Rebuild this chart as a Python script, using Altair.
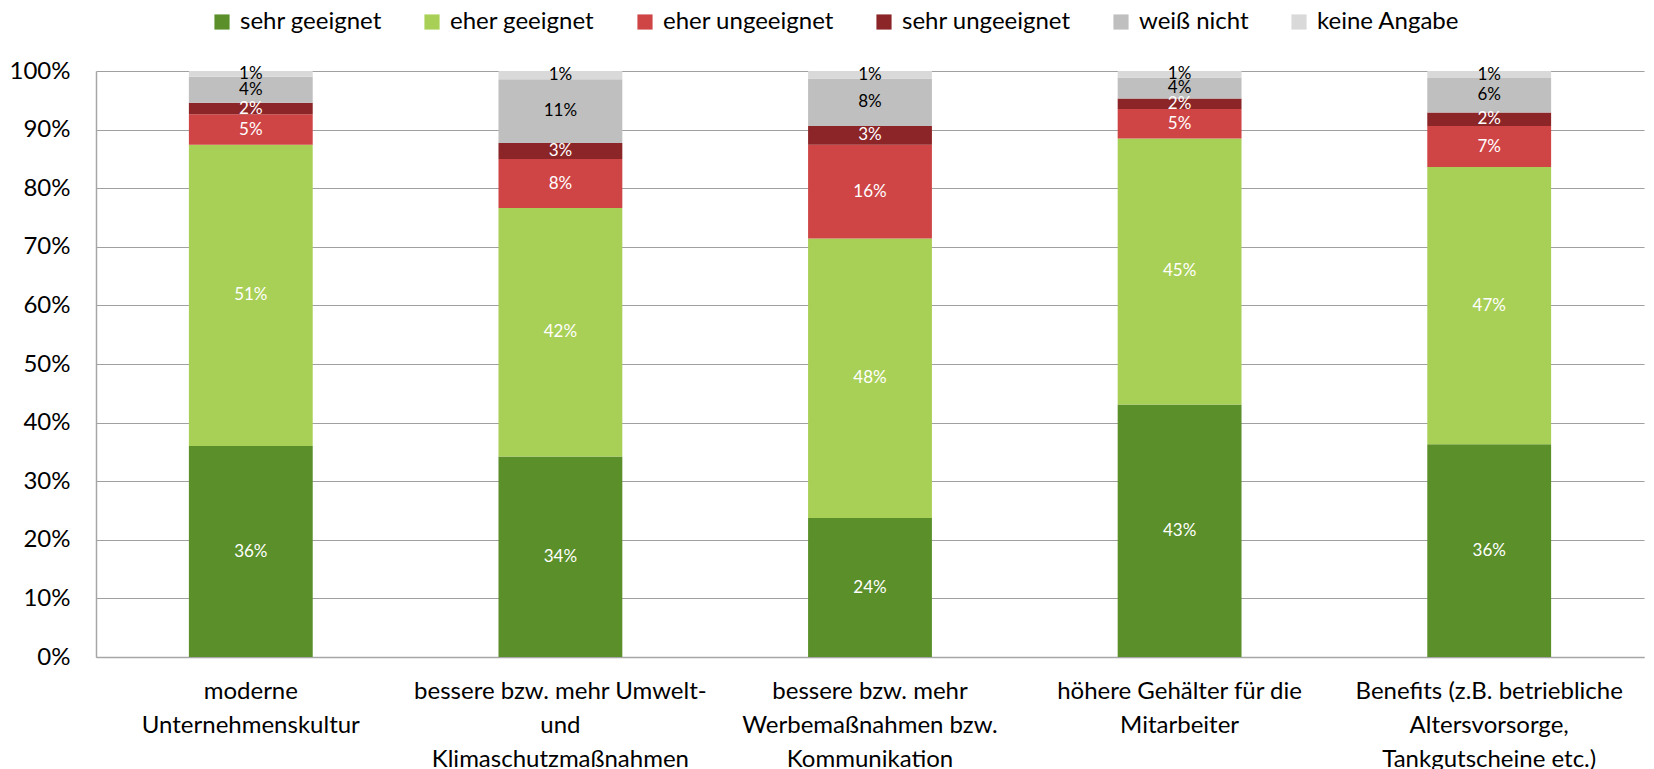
import altair as alt
import pandas as pd

categories = [
    "moderne|Unternehmenskultur",
    "bessere bzw. mehr Umwelt-|und|Klimaschutzmaßnahmen",
    "bessere bzw. mehr|Werbemaßnahmen bzw.|Kommunikation",
    "höhere Gehälter für die|Mitarbeiter",
    "Benefits (z.B. betriebliche|Altersvorsorge,|Tankgutscheine etc.)",
]
series = ["sehr geeignet", "eher geeignet", "eher ungeeignet",
          "sehr ungeeignet", "weiß nicht", "keine Angabe"]
colors = ["#5A8F29", "#A9D056", "#CF4546", "#8B2527", "#BFBFBF", "#D9D9D9"]
label_colors = ["white", "white", "white", "white", "black", "black"]

sehr_geeignet = [36.0, 34.2, 23.7, 43.1, 36.3]
eher_geeignet = [51.4, 42.4, 47.7, 45.4, 47.3]
eher_ungeeignet = [5.2, 8.4, 16.0, 5.0, 7.0]
sehr_ungeeignet = [2.0, 2.7, 3.2, 1.8, 2.3]
weiss_nicht = [4.4, 10.9, 8.1, 3.6, 5.9]
keine_angabe = [1.0, 1.4, 1.3, 1.1, 1.2]

values = [sehr_geeignet, eher_geeignet, eher_ungeeignet,
          sehr_ungeeignet, weiss_nicht, keine_angabe]

rows = []
for si, s in enumerate(series):
    for ci, c in enumerate(categories):
        rows.append({"cat": c, "series": s, "order": si,
                     "value": values[si][ci] / 100.0,
                     "lc": label_colors[si]})
df = pd.DataFrame(rows)

FONT = "Lato"

base = alt.Chart(df).transform_stack(
    stack="value", as_=["y0", "y1"], groupby=["cat"],
    sort=[alt.SortField("order", order="ascending")]
).transform_calculate(mid="(datum.y0 + datum.y1) / 2")

x_enc = alt.X("cat:N", sort=categories, title=None,
              scale=alt.Scale(paddingInner=0.6, paddingOuter=0.3),
              axis=alt.Axis(labelExpr="split(datum.label, '|')",
                            labelAngle=0, labelFontSize=24,
                            labelLineHeight=34, labelPadding=22,
                            labelLimit=400, labelColor="#000000",
                            labelFont=FONT, ticks=False,
                            domainColor="#A6A6A6", domainWidth=1.5,
                            grid=False))

bars = base.mark_bar().encode(
    x=x_enc,
    y=alt.Y("y0:Q", title=None,
            scale=alt.Scale(domain=[0, 1], nice=False),
            axis=alt.Axis(values=[i / 10 for i in range(11)], format=".0%",
                          labelFontSize=24, labelFont=FONT,
                          labelColor="#000000", labelPadding=26,
                          ticks=False, tickSize=0, domainColor="#A6A6A6",
                          domainWidth=1.5, gridColor="#A0A0A0",
                          gridWidth=1.2)),
    y2="y1:Q",
    color=alt.Color("series:N", sort=series,
                    scale=alt.Scale(domain=series, range=colors),
                    legend=alt.Legend(title=None, orient="none",
                                      direction="horizontal",
                                      legendX=114, legendY=-61,
                                      symbolType="square", symbolSize=230,
                                      symbolStrokeWidth=0,
                                      labelFontSize=24, labelFont=FONT,
                                      labelColor="#000000", labelOffset=6,
                                      columnPadding=38, labelLimit=400)),
)

labels = base.mark_text(font=FONT, fontSize=17, baseline="middle",
                        align="center").encode(
    x=alt.X("cat:N", sort=categories),
    y=alt.Y("mid:Q"),
    text=alt.Text("value:Q", format=".0%"),
    color=alt.Color("lc:N", scale=None),
)

chart = alt.layer(bars, labels).properties(
    width=1548, height=586,
    autosize=alt.AutoSizeParams(type="none"),
    padding={"left": 88, "top": 63, "right": 2, "bottom": 118},
).configure_view(stroke=None)

chart.save("out.html", embed_options={"renderer": "svg", "actions": False})
